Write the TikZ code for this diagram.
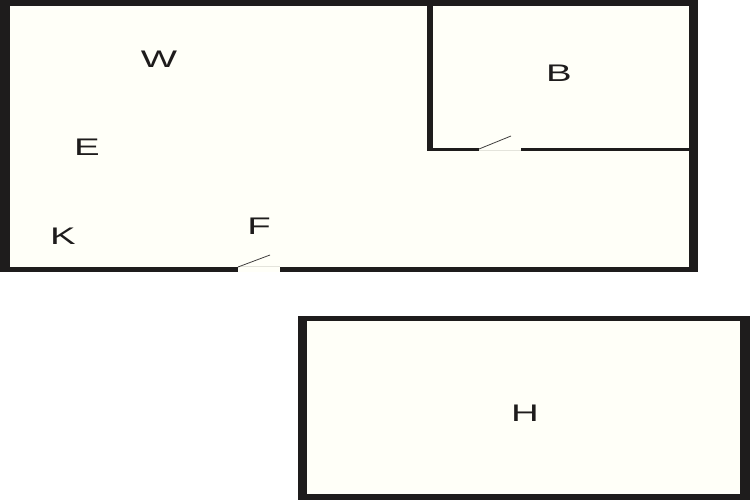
\documentclass[tikz,border=0pt]{standalone}
\usepackage{fontspec}
\setmainfont{Liberation Sans}
\definecolor{wallc}{HTML}{1E1C1C}
\definecolor{floorc}{HTML}{FFFFF8}
\definecolor{sillc}{HTML}{E4E4DC}
\tikzset{
  wall/.style={fill=wallc,draw=none},
  floorarea/.style={fill=floorc,draw=none},
  doorgap/.style={fill=floorc,draw=none},
  sill/.style={draw=sillc,line width=0.75pt},
  doorleaf/.style={draw=wallc!85,line width=0.6pt},
  roomlabel/.style={text=wallc,font=\fontsize{18}{20}\selectfont,xscale=1.6,inner sep=0pt,anchor=center}
}
\begin{document}
\begin{tikzpicture}[x=0.75pt,y=-0.75pt]
\useasboundingbox (0,0) rectangle (750,500);
\fill[white] (0,0) rectangle (750,500);
% main unit
\fill[wall] (0,0) rectangle (698,272);
\fill[floorarea] (10,6) rectangle (688.5,267);
% inner wall
\fill[wall] (427,6) rectangle (433,151);
\fill[wall] (427,148) rectangle (688.5,151);
% doors
\fill[doorgap] (479,148) rectangle (521,151);
\draw[sill] (479,150.6) -- (521,150.6);
\draw[doorleaf] (479,149) -- (511,136);
\fill[doorgap] (238,266.5) rectangle (280,272);
\draw[sill] (238,266.8) -- (280,266.8);
\draw[doorleaf] (238,267) -- (270,255);
% lower room
\fill[wall] (298,316) rectangle (750,500);
\fill[floorarea] (307,321) rectangle (740,493.5);
% labels
\node[roomlabel] (w) at (159,59) {W};
\node[roomlabel] (b) at (559,73) {B};
\node[roomlabel] (e) at (87,147) {E};
\node[roomlabel] (k) at (63,236) {K};
\node[roomlabel] (f) at (259,226.5) {F};
\node[roomlabel] (h) at (525,413) {H};
\end{tikzpicture}
\end{document}
